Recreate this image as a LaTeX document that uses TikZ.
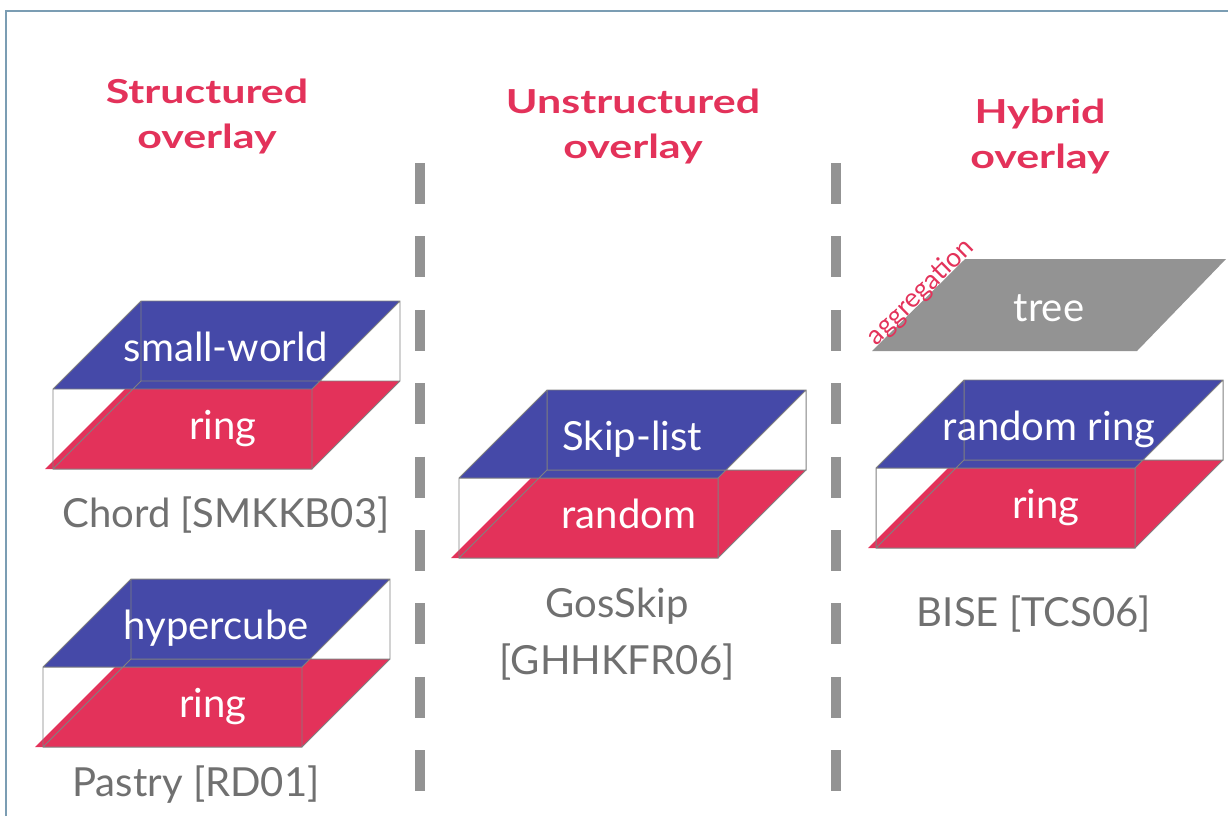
\documentclass[tikz,border=0pt]{standalone}
\usepackage{fontspec}
\setmainfont{Lato}
\newfontfamily\headfont{Lato}[FakeStretch=1.3]
\usetikzlibrary{positioning}
\definecolor{layerblue}{RGB}{69,73,168}
\definecolor{ringred}{RGB}{227,50,90}
\definecolor{treegray}{RGB}{147,147,147}
\definecolor{refgray}{RGB}{112,112,112}
\definecolor{wiregray}{RGB}{128,128,128}
\definecolor{frameblue}{RGB}{123,157,179}
\tikzset{
  layertext/.style={text=white, font=\fontsize{28.5}{34}\selectfont, inner sep=0pt, anchor=base},
  cite/.style={text=refgray, font=\fontsize{28.5}{40.5}\selectfont, align=center, inner sep=0pt, anchor=base},
  header/.style={text=ringred, font=\headfont\bfseries\fontsize{23.5}{32}\selectfont, align=center, inner sep=0pt, anchor=base},
  wire/.style={draw=wiregray, line width=0.7pt},
  separator/.style={draw=treegray, line width=7.1pt, dash pattern=on 29.2pt off 23pt},
}
% two layers in a box: name, x, y of front bottom left corner, upper, lower
\newcommand{\overlaystack}[5]{%
  \begin{scope}[shift={(#2,#3)}]
    \fill[ringred] (-8,0) -- (259,0) -- (347,-88) -- (80,-88) -- cycle;
    \fill[layerblue] (0,-80) -- (259,-80) -- (347,-168) -- (88,-168) -- cycle;
    \draw[wire] (0,0) rectangle (259,-80) (88,-88) rectangle (347,-168)
      (0,0) -- (88,-88) (259,0) -- (347,-88) (0,-80) -- (88,-168) (259,-80) -- (347,-168);
    \node[layertext] (#1up) at (173,-108) {#4};
    \node[layertext] (#1low) at (170,-30) {#5};
  \end{scope}}

\begin{document}
\begin{tikzpicture}[x=0.025cm, y=-0.025cm]
	\useasboundingbox (0,0) rectangle (1228,816);
	\draw[frameblue, line width=1.4pt] (6,816) -- (6,11) -- (1228,11);

	\node[header] (structured) at (207,148) {Structured\\overlay};
	\node[header] (unstructured) at (633,158) {Unstructured\\overlay};
	\node[header] (hybrid) at (1040,168) {Hybrid\\overlay};

	\foreach \x in {420,836}
		\draw[separator] (\x,163) -- (\x,791);

	\overlaystack{chord}{53}{469}{small-world}{ring}
	\overlaystack{pastry}{43}{747}{hypercube}{ring}
	\overlaystack{gosskip}{459}{558}{Skip-list}{random}
	\overlaystack{bise}{876}{548}{random ring}{ring}

	\fill[treegray] (872,351) -- (1137,351) -- (1226,259) -- (965,259) -- cycle;
	\node[layertext] (tree) at (1049,321) {tree};
	\path (872,351) -- (965,259)
		node[pos=0.58, anchor=base, sloped, text=ringred, font=\fontsize{19}{22}\selectfont, inner sep=1pt] (aggr) {aggregation};

	\node[cite] (chordref) at (226,527) {Chord [SMKKB03]};
	\node[cite] (pastryref) at (196,796) {Pastry [RD01]};
	\node[cite] (gosskipref) at (617,674) {GosSkip\\{}[GHHKFR06]};
	\node[cite] (biseref) at (1034,626) {BISE [TCS06]};
\end{tikzpicture}
\end{document}
